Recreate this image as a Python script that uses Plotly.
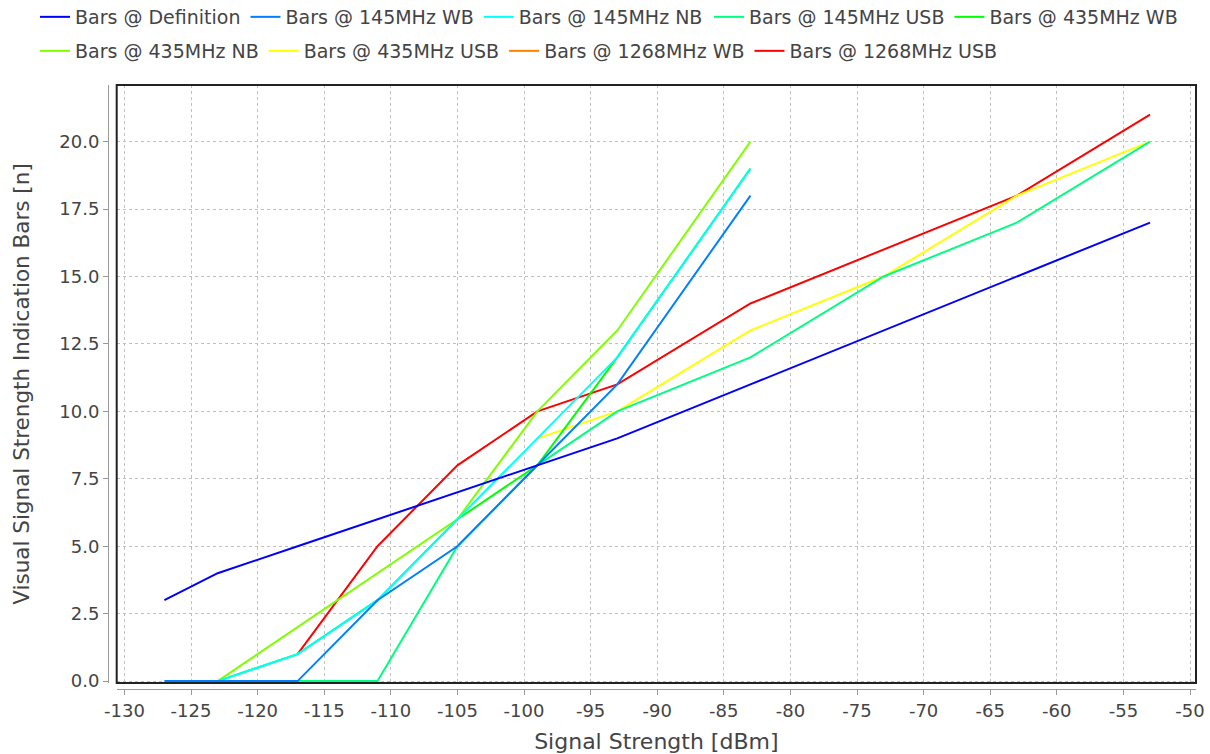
import plotly.graph_objects as go

# ---------------- data ----------------
series_names = [
    "Bars @ Definition", "Bars @ 145MHz WB", "Bars @ 145MHz NB", "Bars @ 145MHz USB",
    "Bars @ 435MHz WB", "Bars @ 435MHz NB", "Bars @ 435MHz USB", "Bars @ 1268MHz WB",
    "Bars @ 1268MHz USB",
]
series_colors = ["#0000FF", "#0080FF", "#00FFFF", "#00FF80", "#00FF00",
                 "#80FF00", "#FFFF00", "#FF8000", "#FF0000"]

def_x = [-127, -123, -117, -111, -105, -99, -93, -83, -73, -63, -53]
def_y = [3, 4, 5, 6, 7, 8, 9, 11, 13, 15, 17]

wb145_x = [-127, -123, -117, -111, -105, -99, -93, -83]
wb145_y = [0, 0, 0, 3, 5, 8, 11, 18]

nb145_x = [-123, -117, -111, -105, -99, -93, -83]
nb145_y = [0, 1, 3, 6, 9, 12, 19]

usb145_x = [-117, -111, -105, -99, -93, -83, -73, -63, -53]
usb145_y = [0, 0, 5, 8, 10, 12, 15, 17, 20]

wb435_x = [-123, -117, -111, -105, -99, -93, -83]
wb435_y = [0, 1, 3, 6, 8, 12, 19]

nb435_x = [-123, -117, -111, -105, -99, -93, -83]
nb435_y = [0, 2, 4, 6, 10, 13, 20]

usb435_x = [-99, -93, -83, -73, -63, -53]
usb435_y = [9, 10, 13, 15, 18, 20]

wb1268_x = []
wb1268_y = []

usb1268_x = [-117, -111, -105, -99, -93, -83, -63, -53]
usb1268_y = [1, 5, 8, 10, 11, 14, 18, 21]

series_x = [def_x, wb145_x, nb145_x, usb145_x, wb435_x, nb435_x, usb435_x, wb1268_x, usb1268_x]
series_y = [def_y, wb145_y, nb145_y, usb145_y, wb435_y, nb435_y, usb435_y, wb1268_y, usb1268_y]

x_ticks = list(range(-130, -49, 5))
y_ticks = [0, 2.5, 5, 7.5, 10, 12.5, 15, 17.5, 20]
y_tick_text = ["%.1f" % v for v in y_ticks]

x_title = "Signal Strength [dBm]"
y_title = "Visual Signal Strength Indication Bars [n]"

# legend groups (row 1 split in two blocks, row 2 one block)
legend_of = ["legend", "legend", "legend", "legend3", "legend3",
             "legend2", "legend2", "legend2", "legend2"]

# ---------------- figure ----------------
FONT = "DejaVu Sans"
TXT = "#444444"

fig = go.Figure()
# first series drawn last (on top), like the original renderer
for i in reversed(range(len(series_names))):
    xs, ys = series_x[i], series_y[i]
    if len(xs) == 0:
        xs, ys = [None], [None]
    fig.add_trace(go.Scatter(
        x=xs, y=ys, mode="lines", name=series_names[i],
        line=dict(color=series_colors[i], width=2),
        legend=legend_of[i],
        legendrank=i + 1,
    ))

W, H = 1210, 754
ml, mr, mt, mb = 108, 14, 85, 65
pw = W - ml - mr
ph = H - mt - mb
xd0 = 8.7 / pw
yd0 = 6.0 / ph

legend_common = dict(orientation="h", xref="container", yref="container",
                     xanchor="left", yanchor="middle",
                     font=dict(family=FONT, size=19, color=TXT),
                     itemwidth=30, bgcolor="rgba(0,0,0,0)", traceorder="normal")

fig.update_layout(
    width=W, height=H,
    margin=dict(l=ml, r=mr, t=mt, b=mb, pad=0),
    paper_bgcolor="white", plot_bgcolor="white",
    font=dict(family=FONT, size=18, color=TXT),
    showlegend=True,
    legend=dict(x=35 / W, y=1 - 17 / H, **legend_common),
    legend3=dict(x=709 / W, y=1 - 17 / H, **legend_common),
    legend2=dict(x=35 / W, y=1 - 51 / H, **legend_common),
    xaxis=dict(
        range=[-130.58, -49.55], domain=[xd0, 1],
        anchor="free", position=0, automargin=False,
        tickmode="array", tickvals=x_ticks, ticktext=[str(v) for v in x_ticks],
        ticks="outside", ticklen=5, tickcolor="#999999", tickwidth=1,
        showline=True, linecolor="#999999", linewidth=1,
        showgrid=True, gridcolor="#C0C0C0", griddash="3px,3px", gridwidth=1,
        zeroline=False,
        tickfont=dict(family=FONT, size=18, color=TXT),
        title=dict(text=x_title, font=dict(family=FONT, size=22, color=TXT), standoff=17),
    ),
    yaxis=dict(
        range=[-0.07, 22.1], domain=[yd0, 1],
        anchor="free", position=0, automargin=False,
        tickmode="array", tickvals=y_ticks, ticktext=y_tick_text,
        ticks="outside", ticklen=5, tickcolor="#999999", tickwidth=1,
        showline=True, linecolor="#999999", linewidth=1,
        showgrid=True, gridcolor="#C0C0C0", griddash="3px,3px", gridwidth=1,
        zeroline=False,
        tickfont=dict(family=FONT, size=18, color=TXT),
        title=dict(text=y_title, font=dict(family=FONT, size=21.5, color=TXT), standoff=22),
    ),
    shapes=[dict(type="rect", xref="x domain", yref="y domain", x0=0, x1=1, y0=0, y1=1,
                 line=dict(color="#222222", width=2), layer="above")],
)

fig.write_html("out.html")
